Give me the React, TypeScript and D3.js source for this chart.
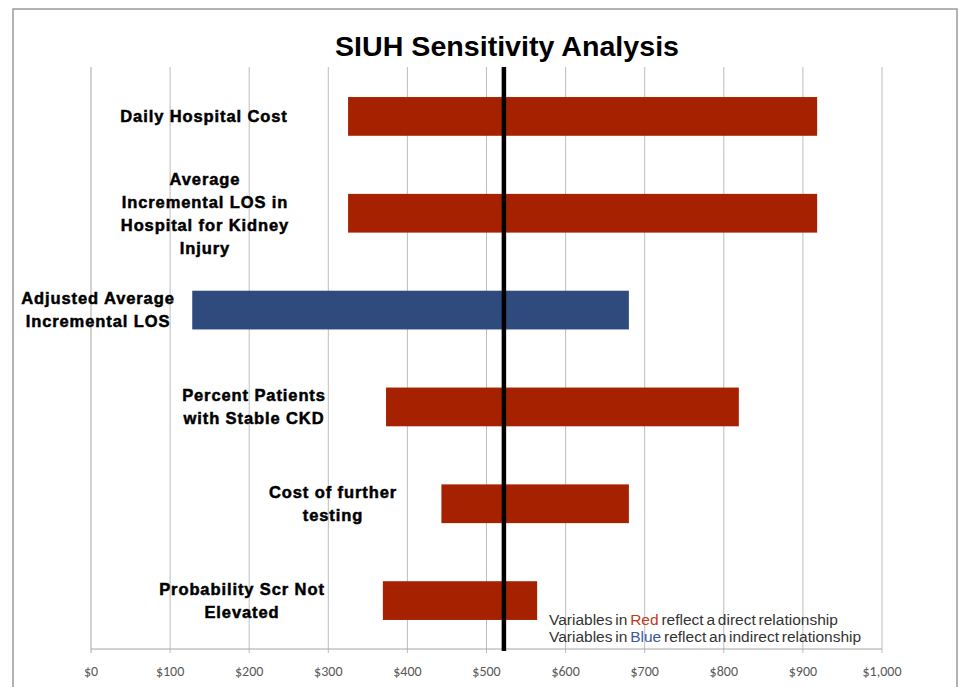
import React from "react";
import * as d3 from "d3";

const categories = [
  "Daily Hospital Cost",
  "Average Incremental LOS in Hospital for Kidney Injury",
  "Adjusted Average Incremental LOS",
  "Percent Patients with Stable CKD",
  "Cost of further testing",
  "Probability Scr Not Elevated",
];
const labelLines = [
  ["Daily Hospital Cost"],
  ["Average", "Incremental LOS in", "Hospital for Kidney", "Injury"],
  ["Adjusted Average", "Incremental LOS"],
  ["Percent Patients", "with Stable CKD"],
  ["Cost of further", "testing"],
  ["Probability Scr Not", "Elevated"],
];
const lowValues = [325, 325, 128, 373, 443, 369];
const highValues = [918, 918, 680, 819, 680, 564];
const relationship = ["direct", "direct", "indirect", "direct", "direct", "direct"];
const baseValue = 522;
const xTicks = [0, 100, 200, 300, 400, 500, 600, 700, 800, 900, 1000];

// layout (pixel centres for category labels)
const labelCenters = [204, 205, 98, 254, 333, 242];

const W = 959;
const H = 687;
const RED = "#A62100";
const BLUE = "#2F4B7D";

export default function App() {
  const x = d3.scaleLinear().domain([0, 1000]).range([91, 882]);
  const y = d3
    .scaleBand<string>()
    .domain(categories)
    .range([68, 649])
    .paddingInner(0.6)
    .paddingOuter(0.3);
  const fmt = (v: number) => "$" + d3.format(",")(v);
  const lineH = 23;

  return (
    <svg
      width={W}
      height={H}
      style={{ position: "absolute", left: 0, top: 0, background: "#fff" }}
    >
      <rect x={0} y={0} width={W} height={H} fill="#fff" />
      <rect x={13} y={9} width={944} height={700} fill="#fff" stroke="#9a9a9a" strokeWidth={1.5} />
      <text
        x={507}
        y={56}
        textAnchor="middle"
        fontFamily="Liberation Sans Narrow, Liberation Sans, Arial, sans-serif"
        fontWeight="bold"
        fontSize={28}
        textLength={344}
        lengthAdjust="spacingAndGlyphs"
        fill="#000"
      >
        SIUH Sensitivity Analysis
      </text>
      {xTicks.map((t) => (
        <g key={t}>
          <line
            x1={x(t)}
            x2={x(t)}
            y1={67}
            y2={653}
            stroke={t === 0 ? "#a6a6a6" : "#bdbdbd"}
            strokeWidth={1}
          />
          <text
            x={x(t)}
            y={676}
            textAnchor="middle"
            fontFamily="Carlito, Liberation Sans, sans-serif"
            fontSize={14}
            fill="#595959"
          >
            {fmt(t)}
          </text>
        </g>
      ))}
      <line x1={x(0)} x2={x(1000)} y1={649} y2={649} stroke="#a6a6a6" strokeWidth={1} />
      {categories.map((c, i) => (
        <rect
          key={c}
          x={x(lowValues[i])}
          y={y(c)}
          width={x(highValues[i]) - x(lowValues[i])}
          height={y.bandwidth()}
          fill={relationship[i] === "direct" ? RED : BLUE}
        />
      ))}
      {categories.map((c, i) => {
        const lines = labelLines[i];
        const cy = (y(c) as number) + y.bandwidth() / 2;
        const y0 = cy - ((lines.length - 1) * lineH) / 2;
        return (
          <text
            key={c}
            textAnchor="middle"
            fontFamily="Liberation Sans, Arial, sans-serif"
            fontWeight="bold"
            fontSize={16.5}
            letterSpacing={0.9}
            stroke="#000"
            strokeWidth={0.5}
            fill="#000"
          >
            {lines.map((l, j) => (
              <tspan key={j} x={labelCenters[i]} y={y0 + j * lineH} dy="0.35em">
                {l}
              </tspan>
            ))}
          </text>
        );
      })}
      <line x1={x(baseValue)} x2={x(baseValue)} y1={67} y2={651} stroke="#000" strokeWidth={4.5} />
      <g fontFamily="Liberation Sans, Arial, sans-serif" fontSize={15.5} fill="#333" wordSpacing={-1.5}>
        <text x={549} y={625}>
          Variables in <tspan fill="#C0391B">Red</tspan> reflect a direct relationship
        </text>
        <text x={549} y={642}>
          Variables in <tspan fill="#3A5A98">Blue</tspan> reflect an indirect relationship
        </text>
      </g>
    </svg>
  );
}
